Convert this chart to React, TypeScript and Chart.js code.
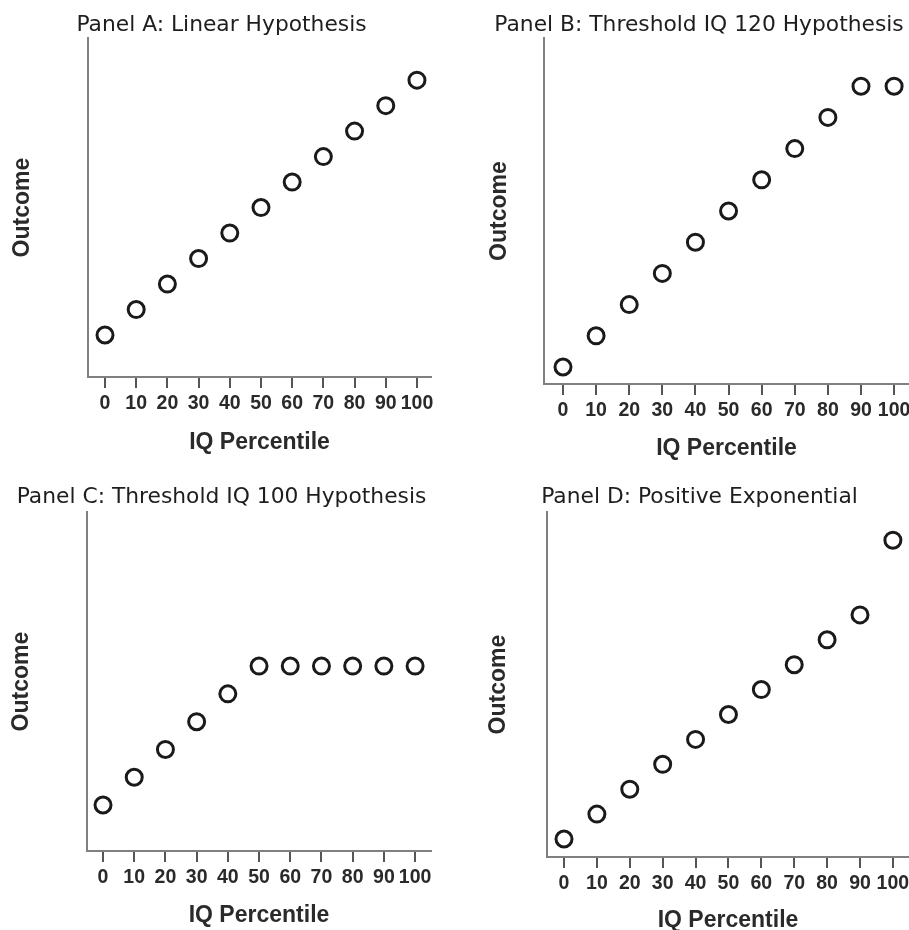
import React, { useEffect, useRef } from "react";
import { Chart, registerables } from "chart.js";

Chart.register(...registerables);

// ---- data ----
const iqPercentiles = [0, 10, 20, 30, 40, 50, 60, 70, 80, 90, 100];
const xTickValues = [0, 10, 20, 30, 40, 50, 60, 70, 80, 90, 100];
const linearOutcome = [1, 2, 3, 4, 5, 6, 7, 8, 9, 10, 11];
const threshold120Outcome = [1, 2, 3, 4, 5, 6, 7, 8, 9, 10, 10];
const threshold100Outcome = [1, 2, 3, 4, 5, 6, 6, 6, 6, 6, 6];
const exponentialOutcome = [1, 2, 3, 4, 5, 6, 7, 8, 9, 10, 13];
const panelTitles = [
  "Panel A: Linear Hypothesis",
  "Panel B: Threshold IQ 120 Hypothesis",
  "Panel C: Threshold IQ 100 Hypothesis",
  "Panel D: Positive Exponential",
];
const xAxisTitle = "IQ Percentile";
const yAxisTitle = "Outcome";

// ---- layout (positions / sizes / ranges) ----
// left = x where the title box starts (title is centred between it and the chart's right edge);
// the canvas extends GUTTER px further left (and rightGutter px further right) so text is never clipped.
type PanelLayout = {
  left: number; top: number; width: number; height: number; rightGutter: number;
  yAxisWidth: number; xAxisHeight: number; yTitlePad: number;
  titlePadTop: number; titlePadBottom: number;
  xMin: number; xMax: number; yMin: number; yMax: number;
};

const GUTTER = 10;

const layouts: PanelLayout[] = [
  { left: 12, top: 0, width: 419, height: 454, rightGutter: 12, yAxisWidth: 76, xAxisHeight: 77, yTitlePad: -0.5,
    titlePadTop: 12, titlePadBottom: 0, xMin: -5.45, xMax: 104.5, yMin: -0.647, yMax: 12.647 },
  { left: 489, top: 0, width: 420, height: 460, rightGutter: 0, yAxisWidth: 55, xAxisHeight: 76, yTitlePad: -0.5,
    titlePadTop: 12, titlePadBottom: 0, xMin: -5.74, xMax: 104.5, yMin: 0.455, yMax: 11.54 },
  { left: 12, top: 465, width: 419, height: 462, rightGutter: 12, yAxisWidth: 75, xAxisHeight: 76, yTitlePad: -1.5,
    titlePadTop: 19, titlePadBottom: 2, xMin: -5.13, xMax: 105.1, yMin: -0.655, yMax: 11.54 },
  { left: 490, top: 465, width: 419, height: 467, rightGutter: 0, yAxisWidth: 57, xAxisHeight: 75, yTitlePad: -2.5,
    titlePadTop: 19, titlePadBottom: 2, xMin: -5.17, xMax: 104.9, yMin: 0.277, yMax: 14.125 },
];

const seriesList = [linearOutcome, threshold120Outcome, threshold100Outcome, exponentialOutcome];

const AXIS_GRAY = "#808080";
const TICK_GRAY = "#555555";
const TEXT_DARK = "#1e1e1e";

function Panel({ index }: { index: number }) {
  const ref = useRef<HTMLCanvasElement | null>(null);
  const lay = layouts[index];
  const canvasLeft = lay.left - GUTTER;
  const canvasWidth = lay.width + GUTTER + lay.rightGutter;
  useEffect(() => {
    if (!ref.current) return;
    const values = seriesList[index];
    const chart = new Chart(ref.current, {
      type: "scatter",
      data: {
        datasets: [
          {
            data: iqPercentiles.map((x, i) => ({ x, y: values[i] })),
            pointRadius: 8,
            pointHoverRadius: 8,
            pointBorderWidth: 3,
            pointBorderColor: "#1a1a1a",
            pointBackgroundColor: "rgba(255,255,255,0)",
            clip: false,
          },
        ],
      },
      options: {
        animation: false,
        responsive: false,
        events: [],
        layout: {
          autoPadding: false,
          padding: { left: GUTTER, right: lay.rightGutter, top: 0, bottom: 0 },
        },
        plugins: {
          legend: { display: false },
          tooltip: { enabled: false },
          title: {
            display: true,
            text: panelTitles[index],
            align: "center",
            color: TEXT_DARK,
            font: { family: "'DejaVu Sans', Verdana, sans-serif", size: 21.8, weight: "normal", lineHeight: 1.2 },
            padding: { top: lay.titlePadTop, bottom: lay.titlePadBottom },
          },
        },
        scales: {
          x: {
            type: "linear",
            position: "bottom",
            min: lay.xMin,
            max: lay.xMax,
            afterBuildTicks: (axis: any) => {
              axis.ticks = xTickValues.map((v) => ({ value: v }));
            },
            afterFit: (axis: any) => {
              axis.height = lay.xAxisHeight;
              axis.paddingLeft = 0;
              axis.paddingRight = 0;
            },
            grid: {
              display: true,
              drawOnChartArea: false,
              drawTicks: true,
              tickLength: 11,
              tickWidth: 2,
              tickColor: TICK_GRAY,
              color: TICK_GRAY,
              lineWidth: 2,
            },
            border: { display: true, color: AXIS_GRAY, width: 2 },
            ticks: {
              autoSkip: false,
              maxRotation: 0,
              padding: 4,
              color: "#2a2a2a",
              font: { family: "'Liberation Sans', Arial, sans-serif", size: 19.5, weight: "bold" },
              callback: (v: any) => String(v),
            },
            title: {
              display: true,
              text: xAxisTitle,
              color: "#2a2a2a",
              font: { family: "'Liberation Sans', Arial, sans-serif", size: 23, weight: "bold", lineHeight: 1 },
              padding: 0,
            },
          },
          y: {
            type: "linear",
            position: "left",
            min: lay.yMin,
            max: lay.yMax,
            afterFit: (axis: any) => {
              axis.width = lay.yAxisWidth;
              axis.paddingTop = 0;
              axis.paddingBottom = 0;
            },
            grid: { display: false },
            border: { display: true, color: AXIS_GRAY, width: 2 },
            ticks: { display: false },
            title: {
              display: true,
              text: yAxisTitle,
              color: "#2a2a2a",
              font: { family: "'Liberation Sans', Arial, sans-serif", size: 23, weight: "bold", lineHeight: 1 },
              padding: { top: lay.yTitlePad, bottom: 0 },
            },
          },
        },
      } as any,
    });
    return () => chart.destroy();
  }, [index]);
  return (
    <canvas
      ref={ref}
      width={canvasWidth}
      height={lay.height}
      style={{ position: "absolute", left: canvasLeft, top: lay.top, width: canvasWidth, height: lay.height }}
    />
  );
}

export default function App() {
  return (
    <div
      style={{
        position: "absolute",
        left: 0,
        top: 0,
        width: 909,
        height: 930,
        overflow: "hidden",
        background: "#ffffff",
      }}
    >
      {layouts.map((_, i) => (
        <Panel key={i} index={i} />
      ))}
    </div>
  );
}
